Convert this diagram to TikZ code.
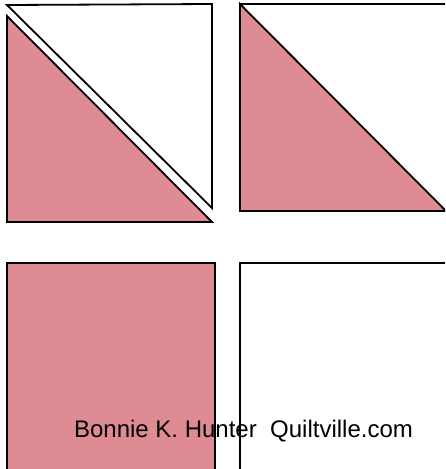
\documentclass[tikz,border=0pt]{standalone}
\usepackage{fontspec}
\setmainfont{Liberation Sans}
\definecolor{quiltpink}{RGB}{223,139,147}
\tikzset{patch/.style={draw=black,line width=1.8pt,line join=miter}}
\begin{document}
\begin{tikzpicture}[x=1pt,y=-1pt]
\useasboundingbox (0,0) rectangle (445,469);
\clip (0,0) rectangle (445,469);

% Split square: two triangles pulled apart
\filldraw[patch,fill=white] (7,5) -- (212,4) -- (212,208) -- cycle;
\filldraw[patch,fill=quiltpink] (7,16) -- (212,222) -- (7,222) -- cycle;

% Half square triangle
\filldraw[patch,fill=white] (240,4) rectangle (448,211);
\filldraw[patch,fill=quiltpink] (240,4) -- (446,211) -- (240,211) -- cycle;

% Plain squares
\filldraw[patch,fill=quiltpink] (7,263) rectangle (215,480);
\filldraw[patch,fill=white] (240,263) rectangle (450,480);

\node[anchor=base,font=\fontsize{24}{27}\selectfont,inner sep=0pt] (credit)
  at (243.5,437) {Bonnie K. Hunter\ \ Quiltville.com};
\end{tikzpicture}
\end{document}
